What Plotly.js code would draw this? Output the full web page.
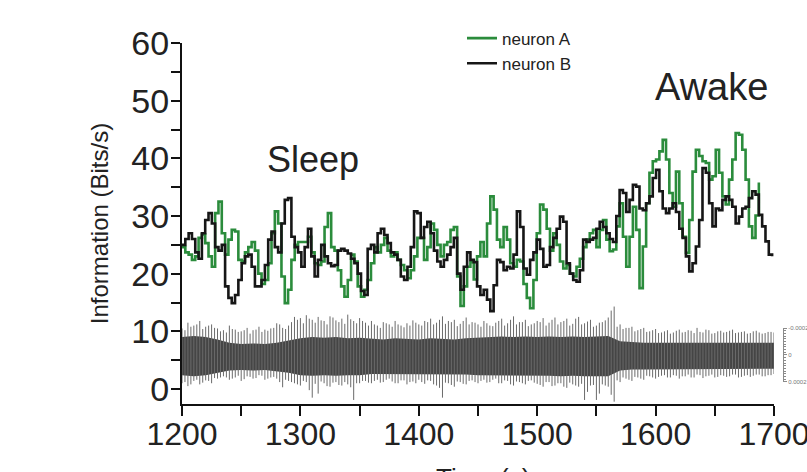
<!DOCTYPE html>
<html>
<head>
<meta charset="utf-8">
<script src="https://cdn.plot.ly/plotly-3.0.1.min.js"></script>
<style>
html,body{margin:0;padding:0;background:#fff;}
#chart{width:807px;height:472px;}
</style>
</head>
<body>
<div id="chart"></div>
<script>
// ---- data ----
const infoStart = 1200;   // s
const infoStep = 2.8;     // s between information samples

const neuronA = [24.6,23.7,23.3,22.4,23,26.2,26.8,25.3,23,21.2,30.5,32.5,27,23.3,25.9,27.6,27.3,22.4,22.1,23.7,
  24.6,25.5,24,20,18.2,18.9,21.8,27,30.8,28.7,19.5,14.9,17.2,22.4,25,25.5,25.5,25.5,26.4,23.7,
  21.8,21.5,22.1,28.1,30.5,24.6,24,20.6,17.8,16,18.9,23.3,22.1,17.8,16,17.2,18.9,21.8,24.6,23.7,
  25,26.2,24,23,23.7,22.4,21.5,20.6,19.2,20.6,23,26.2,26.2,22.4,24.6,28.7,27.6,25,23,25,
  25.5,27.6,28.1,19.5,14.4,17.8,21.2,22,19,23,25.5,23,28.7,33.4,31.1,25.9,24.6,28.1,25.9,21.8,
  21.2,22.4,22.1,18.2,15.8,14,18.9,27,32,31.1,27.8,24,27,25,22.1,20.9,21.5,20,19.5,21.2,
  22.6,24.6,25.9,27,27.6,24.6,27.6,29.3,25.9,23.9,24.2,28.2,32.2,26.4,21.2,26.4,31.6,27.6,17.5,24.7,
  32.2,37.5,39.5,39.8,41.2,43.2,39.8,34,31.6,37.7,32.2,26.4,23.6,29.3,37.7,41.5,40.4,39.5,39.2,36.3,
  36.9,41.5,37.5,33.4,32,36.3,39.8,44.4,44.1,41.5,36.3,28.2,26.2,30.1,35.8];

const neuronB = [25,26,27,26,23.7,22.6,27,29.3,30.5,28.7,24.6,24,25,17.8,15.8,14.9,16.3,18.9,21.8,23,
  23.3,21.2,17.8,17.8,18.9,21.5,25.9,27.3,24.6,23.7,28.7,32.8,33.1,26.4,24.6,23.7,21.2,24.6,27.8,23,
  19.5,22.4,25,23,21.8,21.3,21.5,24,24.3,24,23.5,22.6,21.8,20,17,16.3,24.3,25,23.7,27,
  27.8,26.7,25.3,23.7,23.3,22.4,19.5,18.9,21.2,24.6,30.8,30.5,26.2,28.1,29,27,24,22.1,21.2,22.4,
  23.3,24.6,26.2,20,17.2,21.2,23.7,22.4,22,17.8,16.3,17.2,15.5,13.5,18,22.4,22,20.6,21.2,20.9,
  23.3,30.8,28.1,20.9,19.8,22.4,23.7,25.9,24.3,21.2,21.5,24.6,26.2,27.8,29.9,29,21.8,20,18.9,18.6,
  20.6,25.9,25.5,25.9,26.2,27.8,29,28.1,27,26,25.5,30,34.5,34,30.7,32.8,35.4,35.1,31.3,31,
  32.2,33.4,36.6,38,34.3,31.3,30.5,31.3,32.2,30.7,27.8,26.2,23,20.4,21.8,24.7,29.3,38.3,37.5,32.2,
  28.2,31.3,31,32.8,33.4,32.8,31.6,28.7,29.9,31.3,31.6,33.1,34.3,33.7,30.2,28.2,25.6,23.3,23];

// raw recording shown under the curves (scaled trace)
// outer spike extents every 5 s starting at 1200
const noiseStart = 1200, noiseStep = 5;
const noiseHi = [10.5,11.5,11,11.8,10.8,11.2,10.5,10.2,11,10.3,10,10.6,10.2,10.8,10.3,10.5,11.4,10.6,11,12.5,
  12.3,12.8,12,12.5,11.8,12.6,11.9,12.2,12.9,11.8,12.3,11.5,11.8,11,11.6,11.2,11.8,11,11.4,11.9,
  11.2,11.8,12.2,11.5,12.6,11.8,12,11.3,12.4,11.6,11.2,11.8,11,11.5,12.2,11.4,12.6,11.6,12,11.2,
  11.8,12.3,11.5,12.4,11.6,12.2,11.3,12.5,11.4,12,11,11.6,12.4,14.3,11.2,10.6,10.8,10.2,10.6,10,
  10.4,9.8,10.2,9.8,10.3,9.9,10.1,10.6,9.8,10.2,9.7,10.1,9.9,10.3,9.8,10,9.7,10.1,9.6,9.9,9.8];
const noiseLo = [1.0,0.5,1.4,0.8,1.5,1.0,1.8,2.2,1.6,2.0,1.4,2.2,1.8,2.4,1.6,2.0,1.8,0.3,1.4,1.0,
  0.6,1.2,-1.5,-0.8,1.0,0.4,1.2,0.6,0.8,-1.9,1.0,1.4,1.0,1.6,1.2,1.8,1.0,1.5,0.8,1.3,
  1.6,0.9,1.4,0.6,-1.5,1.0,0.4,1.2,0.8,1.5,1.0,1.6,1.2,1.8,1.0,1.4,0.6,1.2,0.8,1.5,
  0.9,0.4,1.2,0.6,1.0,0.2,0.8,0.4,-1.9,0.6,-1.9,0.8,0.4,-2.2,1.2,1.8,1.4,2.0,1.6,2.2,
  1.8,2.3,2.0,2.4,1.8,2.2,2.0,2.5,1.9,2.3,2.0,2.4,2.1,2.5,2.0,2.3,2.1,2.5,2.2,2.4,2.6];
// in-between spike extents every 5 s starting at 1202.5
const noise2Start = 1202.5;
const noiseHi2 = [10.2,10.8,11.2,10.4,11.0,10.6,10.0,
  9.8,10.4,9.9,10.2,9.6,10.3,9.9,10.1,10.6,11.2,10.4,
  11.6,12.0,11.4,12.2,11.5,11.9,11.2,12.4,11.6,11.3,12.1,11.4,11.8,11.0,
  11.2,10.6,11.4,10.8,11.2,10.7,11.0,11.5,
  11.0,11.6,11.2,12.0,11.3,11.6,10.9,11.8,11.2,11.5,
  10.8,11.4,10.9,11.8,11.0,12.0,11.2,11.6,10.9,11.4,
  11.6,11.0,12.0,11.2,11.8,11.0,12.2,11.2,11.7,10.8,11.5,11.9,
  13.6,
  10.8,10.4,10.6,10.0,10.4,9.9,10.2,
  9.7,10.0,9.6,10.1,9.8,10.2,9.7,9.9,10.3,9.6,10.0,9.8,10.1,9.7,9.9,9.6,10.0,9.8,9.7,9.9];
const noiseLo2 = [1.2,0.8,1.6,1.1,1.4,1.9,2.0,
  2.0,1.8,2.3,1.7,2.1,1.9,2.3,1.8,2.1,1.2,1.6,
  1.2,0.8,1.4,-0.2,0.9,1.3,0.5,1.1,0.7,1.2,0.3,1.0,1.4,1.1,
  1.4,1.1,1.6,1.3,1.0,1.5,1.2,1.0,
  1.2,1.5,0.8,0.2,1.1,0.7,1.3,0.9,1.4,1.2,
  1.4,1.1,1.6,1.0,1.5,0.8,1.3,1.0,1.4,1.1,
  0.7,1.2,0.5,1.0,0.4,1.1,0.6,0.9,-0.5,0.7,-0.8,0.6,
  -1.0,
  1.5,2.0,1.6,2.1,1.8,2.3,2.0,
  2.1,2.4,2.0,2.3,2.2,2.5,2.0,2.4,2.2,2.5,2.1,2.3,2.2,2.5,2.1,2.4,2.3,2.5,2.2,2.4];
// dense core of the recording, every 10 s
const coreStep = 10;
const coreHi = [9.0,9.2,9.0,8.6,8.0,7.8,7.9,7.8,8.0,8.4,8.8,9.0,8.9,9.0,8.8,8.9,8.7,8.6,8.8,8.7,
  8.6,8.8,8.7,8.6,8.8,8.9,9.0,9.1,9.0,9.1,9.0,9.1,9.0,9.1,9.0,9.1,9.2,8.3,8.1,8.0,
  8.0,8.0,7.9,8.0,8.0,7.9,8.0,7.9,8.0,7.9,8.0];
const coreLo = [2.4,2.2,2.4,2.8,3.2,3.3,3.2,3.3,3.1,2.8,2.4,2.3,2.4,2.3,2.4,2.4,2.6,2.6,2.5,2.6,
  2.6,2.5,2.5,2.6,2.5,2.4,2.4,2.3,2.3,2.4,2.3,2.3,2.2,2.3,2.2,2.2,2.2,3.2,3.4,3.4,
  3.4,3.5,3.4,3.4,3.5,3.4,3.5,3.4,3.5,3.4,3.5];

const xTickVals = [1200,1300,1400,1500,1600,1700];
const yTickVals = [0,10,20,30,40,50,60];
const insetTickVals = [-0.0002,0,0.0002];
const insetTickText = ['-0.0002','0','0.0002'];

// ---- build traces ----
const grid = (start, step, n) => { const a=[]; for(let i=0;i<n;i++) a.push(+(start+step*i).toFixed(2)); return a; };
const tA = grid(infoStart, infoStep, neuronA.length);
const tB = grid(infoStart, infoStep, neuronB.length);
const tN = grid(noiseStart, noiseStep, noiseHi.length);
const tN2 = grid(noise2Start, noiseStep, noiseHi2.length);
const tC = grid(noiseStart, coreStep, coreHi.length);

const spikeX=[], spikeY=[];
for(let i=0;i<tN.length;i++){ spikeX.push(tN[i],tN[i],null); spikeY.push(noiseHi[i],noiseLo[i],null); }
for(let i=0;i<tN2.length;i++){ spikeX.push(tN2[i],tN2[i],null); spikeY.push(noiseHi2[i],noiseLo2[i],null); }

const FONT = '"Liberation Sans", Arial, Helvetica, sans-serif';

const traces = [
  {x:tC, y:coreLo, mode:'lines', line:{width:0, color:'#444'}, showlegend:false, hoverinfo:'skip'},
  {x:tC, y:coreHi, mode:'lines', line:{width:0, color:'#444'}, fill:'tonexty', fillcolor:'#454545', showlegend:false, hoverinfo:'skip'},
  {x:spikeX, y:spikeY, mode:'lines', line:{width:1, color:'#6a6a6a'}, connectgaps:false, showlegend:false, hoverinfo:'skip'},
  {x:tA, y:neuronA, name:'neuron A', mode:'lines', line:{shape:'hv', width:2.6, color:'#2b8c3c'}, legendrank:1},
  {x:tB, y:neuronB, name:'neuron B', mode:'lines', line:{shape:'hv', width:2.6, color:'#161616'}, legendrank:2},
  {x:[null], y:[null], xaxis:'x', yaxis:'y2', mode:'lines', showlegend:false, hoverinfo:'skip'}
];

const layout = {
  width:807, height:472,
  margin:{l:182, r:0, t:43, b:68},
  paper_bgcolor:'#fff', plot_bgcolor:'rgba(0,0,0,0)',
  font:{family:FONT, color:'#222'},
  showlegend:true,
  legend:{x:0.448, y:1.062, xanchor:'left', yanchor:'top', bgcolor:'rgba(0,0,0,0)', traceorder:'normal',
          font:{size:17, family:FONT, color:'#222'}, tracegroupgap:0},
  xaxis:{
    domain:[0, 0.9472], range:[1200,1700],
    showline:true, linecolor:'#111', linewidth:2, mirror:false,
    ticks:'outside', ticklen:10, tickwidth:2, tickcolor:'#111',
    tickvals:xTickVals, ticktext:xTickVals.map(String),
    minor:{dtick:50, ticks:'outside', ticklen:10, tickwidth:2, tickcolor:'#111'},
    tickfont:{size:32, family:FONT, color:'#222'},
    ticklabeloverflow:'allow', ticklabelstandoff:-9,
    showgrid:false, zeroline:false
  },
  yaxis:{
    range:[-2.6,60],
    showline:true, linecolor:'#111', linewidth:2,
    ticks:'outside', ticklen:9, tickwidth:2, tickcolor:'#111',
    tickvals:yTickVals, ticktext:yTickVals.map(String),
    minor:{dtick:5, ticks:'outside', ticklen:9, tickwidth:2, tickcolor:'#111'},
    tickfont:{size:34, family:FONT, color:'#222'},
    ticklabelstandoff:-5,
    showgrid:false, zeroline:false,
    title:{text:'Information (Bits/s)', font:{size:24, family:FONT, color:'#222'}, standoff:16}
  },
  yaxis2:{
    domain:[0.061,0.2105], anchor:'free', position:0.9616, side:'right',
    range:[0.0002,-0.0002],
    showline:true, linecolor:'#8a8a8a', linewidth:1,
    ticks:'outside', ticklen:3, tickwidth:1, tickcolor:'#8a8a8a',
    tickvals:insetTickVals, ticktext:insetTickText,
    minor:{dtick:0.00002, ticks:'outside', ticklen:2, tickwidth:1, tickcolor:'#8a8a8a'},
    tickfont:{size:6, family:FONT, color:'#777'},
    showgrid:false, zeroline:false
  },
  annotations:[
    {x:1310.6, y:39.8, xref:'x', yref:'y', text:'Sleep', showarrow:false,
     font:{size:36, family:FONT, color:'#222'}},
    {x:1646.8, y:52.3, xref:'x', yref:'y', text:'Awake', showarrow:false,
     font:{size:38, family:FONT, color:'#222'}},
    // x-axis title, partly below the picture's edge as in the reference
    {x:0.4816, y:-0.158, xref:'paper', yref:'paper', xanchor:'center', yanchor:'top',
     text:'Time (s)', showarrow:false, font:{size:26, family:FONT, color:'#222'}}
  ]
};

Plotly.newPlot('chart', traces, layout, {staticPlot:true, displayModeBar:false});
</script>
</body>
</html>
